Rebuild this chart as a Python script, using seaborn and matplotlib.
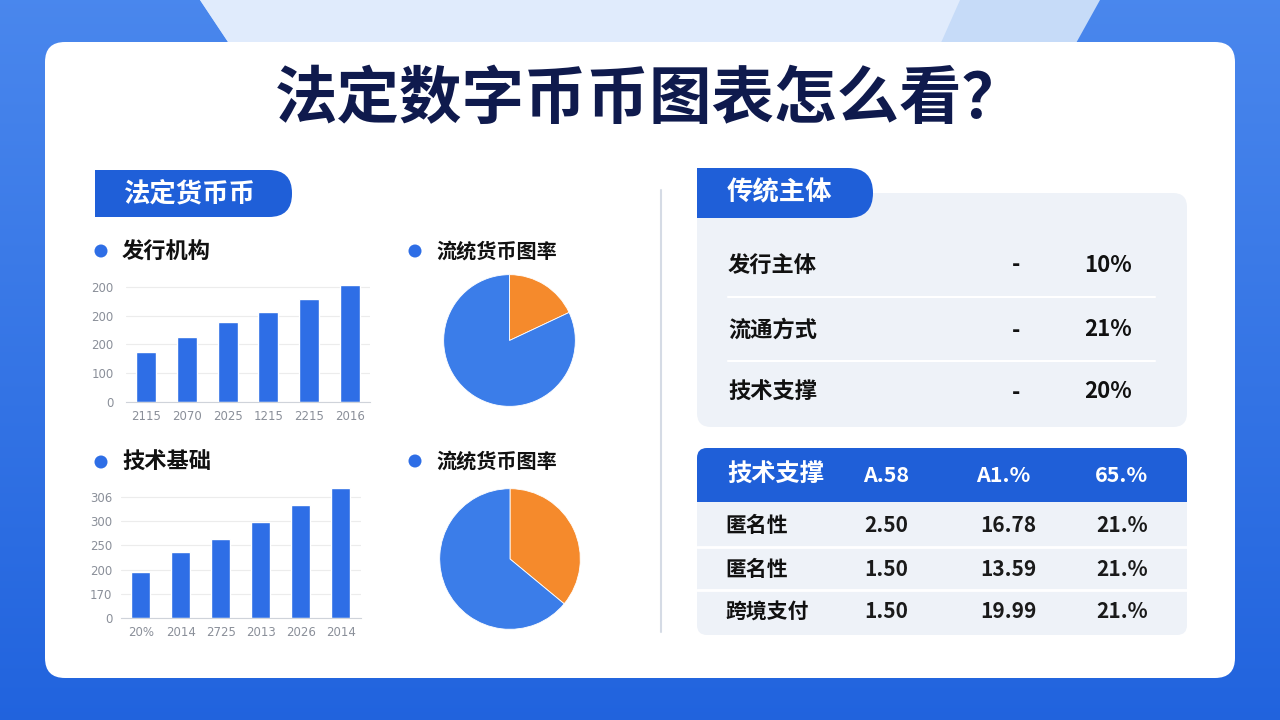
import numpy as np
import pandas as pd
import matplotlib
matplotlib.use("Agg")
import matplotlib.pyplot as plt
import seaborn as sns
from matplotlib.patches import FancyBboxPatch, Rectangle, Circle, Polygon

# ---- data ----
title = "法定数字币币图表怎么看？"
left_tab = "法定货币币"
right_tab = "传统主体"

bar1_title = "发行机构"
bar1_labels = ["2115", "2070", "2025", "1215", "2215", "2016"]
bar1_values = [173, 226, 277, 314, 359, 407]
bar1_ytick_labels = ["0", "100", "200", "200", "200"]

bar2_title = "技术基础"
bar2_labels = ["20%", "2014", "2725", "2013", "2026", "2014"]
bar2_values = [94, 136, 164, 199, 234, 269]
bar2_ytick_labels = ["0", "170", "200", "250", "300", "306"]

pie_title = "流统货币图率"
pie1_values = [18, 82]
pie2_values = [36, 64]

trad_rows = ["发行主体", "流通方式", "技术支撑"]
trad_dash = ["-", "-", "-"]
trad_pct = ["10%", "21%", "20%"]

table_header = ["技术支撑", "A.58", "A1.%", "65.%"]
table_rows = ["匿名性", "匿名性", "跨境支付"]
table_col1 = ["2.50", "1.50", "1.50"]
table_col2 = ["16.78", "13.59", "19.99"]
table_col3 = ["21.%", "21.%", "21.%"]

BLUE = "#1f5fd8"
BAR_BLUE = "#2e6ee6"
PIE_BLUE = "#3b7de9"
ORANGE = "#f58a2c"
NAVY = "#0f1a4d"
PANEL = "#eef2f8"
TICK = "#8a8f99"

sns.set_style("white")
plt.rcParams["font.family"] = ["Noto Sans CJK SC", "DejaVu Sans"]

W, H = 1280, 720
fig = plt.figure(figsize=(12.8, 7.2), dpi=100)


def px_axes(x0, y0, x1, y1):
    return fig.add_axes([x0 / W, 1 - y1 / H, (x1 - x0) / W, (y1 - y0) / H])


# ---- background and card ----
bg = fig.add_axes([0, 0, 1, 1])
bg.set_xlim(0, W)
bg.set_ylim(H, 0)
bg.axis("off")

top_c = np.array([0.29, 0.53, 0.93])
bot_c = np.array([0.13, 0.39, 0.87])
t = np.linspace(0, 1, H)[:, None, None]
grad = top_c * (1 - t) + bot_c * t
grad = np.repeat(grad, 4, axis=1)
bg.imshow(grad, extent=(0, W, H, 0), aspect="auto", zorder=0)

bg.add_patch(Polygon([(200, 0), (1100, 0), (1075, 45), (230, 45)], fc="#c6dbf8", ec="none", zorder=1))
bg.add_patch(Polygon([(200, 0), (960, 0), (940, 45), (230, 45)], fc="#e0ebfc", ec="none", zorder=1))

bg.add_patch(FancyBboxPatch((45, 42), 1190, 636, boxstyle="round,pad=0,rounding_size=20",
                            fc="white", ec="none", zorder=2))

bg.text(650, 99, title, ha="center", va="center", fontsize=45, fontweight="heavy",
        color=NAVY, zorder=5)

# left tab
bg.add_patch(FancyBboxPatch((95, 170), 197, 47, boxstyle="round,pad=0,rounding_size=23",
                            fc=BLUE, ec="none", zorder=3))
bg.add_patch(Rectangle((95, 170), 40, 47, fc=BLUE, ec="none", zorder=3))
bg.text(123, 194, left_tab, ha="left", va="center", fontsize=19, fontweight="bold",
        color="white", zorder=5)

# divider
bg.plot([661, 661], [190, 632], color="#d5dbe5", lw=1.5, zorder=3)

# bullets
for (bx, by), label in zip([(101, 251), (415, 251), (101, 462), (415, 461)],
                           [bar1_title, pie_title, bar2_title, pie_title]):
    bg.add_patch(Circle((bx, by), 6.5, fc=BAR_BLUE, ec="none", zorder=4))
    fs = 16 if label != pie_title else 14.5
    bg.text(bx + 21, by, label, ha="left", va="center", fontsize=fs, fontweight="bold",
            color="#111111", zorder=5)

# right top panel
bg.add_patch(FancyBboxPatch((697, 193), 490, 234, boxstyle="round,pad=0,rounding_size=14",
                            fc=PANEL, ec="none", zorder=3))
bg.add_patch(FancyBboxPatch((697, 168), 176, 50, boxstyle="round,pad=0,rounding_size=25",
                            fc=BLUE, ec="none", zorder=4))
bg.add_patch(Rectangle((697, 168), 40, 50, fc=BLUE, ec="none", zorder=4))
bg.text(727, 193, right_tab, ha="left", va="center", fontsize=19, fontweight="bold",
        color="white", zorder=5)
for ry in [297, 361]:
    bg.plot([728, 1155], [ry, ry], color="white", lw=1.5, zorder=4)
for i, ry in enumerate([265, 330, 392]):
    bg.text(728, ry, trad_rows[i], ha="left", va="center", fontsize=16, fontweight="bold",
            color="#111111", zorder=5)
    bg.text(1016, ry, trad_dash[i], ha="center", va="center", fontsize=16, fontweight="bold",
            color="#111111", zorder=5)
    bg.text(1108, ry, trad_pct[i], ha="center", va="center", fontsize=16, fontweight="bold",
            color="#111111", zorder=5)

# right bottom table
bg.add_patch(FancyBboxPatch((697, 448), 490, 187, boxstyle="round,pad=0,rounding_size=10",
                            fc=PANEL, ec="none", zorder=3))
bg.add_patch(FancyBboxPatch((697, 448), 490, 54, boxstyle="round,pad=0,rounding_size=10",
                            fc=BLUE, ec="none", zorder=4))
bg.add_patch(Rectangle((697, 480), 490, 22, fc=BLUE, ec="none", zorder=4))
for ry in [547, 590]:
    bg.plot([697, 1187], [ry, ry], color="white", lw=2, zorder=4)
bg.text(727, 475, table_header[0], ha="left", va="center", fontsize=17.5, fontweight="bold",
        color="white", zorder=5)
for hx, h in zip([886, 1003, 1122], table_header[1:]):
    bg.text(hx, 475, h, ha="center", va="center", fontsize=15.5, fontweight="bold",
            color="white", zorder=5)
for i, ry in enumerate([525, 569, 612]):
    bg.text(725, ry, table_rows[i], ha="left", va="center", fontsize=15, fontweight="bold",
            color="#111111", zorder=5)
    for cx, col in zip([886, 1008, 1122], [table_col1, table_col2, table_col3]):
        bg.text(cx, ry, col[i], ha="center", va="center", fontsize=15, fontweight="bold",
                color="#1a1a1a", zorder=5)


# ---- bar charts ----
def style_bar(ax, ymax, yticks, ylabels, ypad):
    ax.set_ylim(0, ymax)
    ax.set_yticks(yticks)
    ax.set_yticklabels(ylabels)
    ax.set_xlabel("")
    ax.set_ylabel("")
    ax.patch.set_alpha(0)
    ax.yaxis.grid(True, color="#ececec", lw=0.8)
    ax.set_axisbelow(True)
    for s in ["top", "right", "left"]:
        ax.spines[s].set_visible(False)
    ax.spines["bottom"].set_color("#cfd3da")
    ax.tick_params(axis="both", length=0, labelsize=8.5, labelcolor=TICK)
    ax.tick_params(axis="y", pad=ypad)
    ax.tick_params(axis="x", pad=6)
    for lab in ax.get_xticklabels() + ax.get_yticklabels():
        lab.set_family("DejaVu Sans")


ax1 = px_axes(126, 282.6, 370, 401.7)
df1 = pd.DataFrame({"year": bar1_labels, "value": bar1_values})
df1["year"] = df1["year"] + [" " * i for i in range(len(df1))]  # keep repeated labels distinct
sns.barplot(data=df1, x="year", y="value", color=BAR_BLUE, saturation=1, width=0.49, ax=ax1)
ax1.set_xticks(range(len(bar1_labels)))
ax1.set_xticklabels(bar1_labels)
style_bar(ax1, 415, [0, 100, 200, 300, 400], bar1_ytick_labels, 9)

ax2 = px_axes(120.7, 485.2, 360.7, 617.7)
df2 = pd.DataFrame({"year": bar2_labels, "value": bar2_values})
df2["year"] = df2["year"] + [" " * i for i in range(len(df2))]
sns.barplot(data=df2, x="year", y="value", color=BAR_BLUE, saturation=1, width=0.48, ax=ax2)
ax2.set_xticks(range(len(bar2_labels)))
ax2.set_xticklabels(bar2_labels)
style_bar(ax2, 275, [0, 50, 100, 150, 200, 250], bar2_ytick_labels, 6)


# ---- pies ----
def draw_pie(cx, cy, r, values):
    ax = px_axes(cx - r, cy - r, cx + r, cy + r)
    ax.pie(values, colors=[ORANGE, PIE_BLUE], startangle=90, counterclock=False,
           wedgeprops=dict(edgecolor="white", linewidth=0.6))
    ax.set_xlim(-1.01, 1.01)
    ax.set_ylim(-1.01, 1.01)
    ax.set_aspect("equal")
    return ax


draw_pie(509.5, 340.5, 66.5, pie1_values)
draw_pie(510, 559, 71, pie2_values)

fig.savefig("out.png", dpi=100)
